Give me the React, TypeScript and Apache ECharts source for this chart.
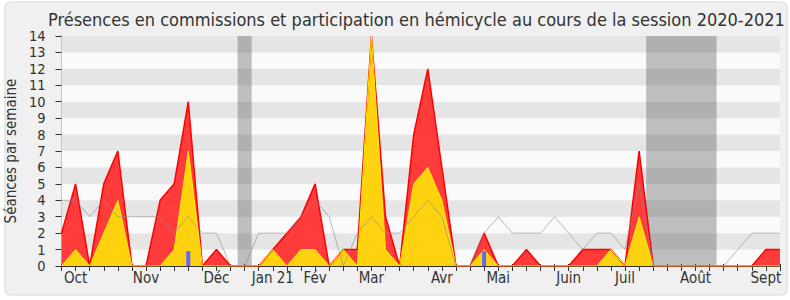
import React, { useEffect, useRef } from 'react';
import * as echarts from 'echarts';

const titleText = 'Présences en commissions et participation en hémicycle au cours de la session 2020-2021';
const yAxisName = 'Séances par semaine';

const monthLabels = ['Oct', 'Nov', 'Déc', 'Jan 21', 'Fév', 'Mar', 'Avr', 'Mai', 'Juin', 'Juil', 'Août', 'Sept'];
const monthWeeks = [1, 6, 11, 15, 18, 22, 27, 31, 36, 40, 45, 50];

// total weekly activity (red)
const presences = [2, 5, 0, 5, 7, 0, 0, 4, 5, 10, 0, 1, 0, 0, 0, 1, 2, 3, 5, 0, 1, 1, 14, 3, 0, 8, 12, 6, 0, 0, 2, 0, 0, 1, 0, 0, 0, 1, 1, 1, 0, 7, 0, 0, 0, 0, 0, 0, 0, 0, 1, 1];
// hemicycle participation (yellow)
const hemicycle = [0, 1, 0, 2, 4, 0, 0, 0, 1, 7, 0, 0, 0, 0, 0, 1, 0, 1, 1, 0, 1, 0, 14, 1, 0, 5, 6, 4, 0, 0, 1, 0, 0, 0, 0, 0, 0, 0, 0, 1, 0, 3, 0, 0, 0, 0, 0, 0, 0, 0, 0, 0];
// oral questions (blue)
const questionWeeks = [9, 30];
const questionValues = [0.9, 0.9];
// median of deputies (grey)
const mediane = [4, 4, 3, 4, 3, 3, 3, 3, 2, 3, 2, 2, 0, 0, 2, 2, 2, 3, 4, 3, 0, 2, 3, 2, 2, 3, 4, 3, 0, 0, 2, 3, 2, 2, 2, 3, 2, 1, 2, 2, 1, 5, 0, 0, 0, 0, 0, 0, 1, 2, 2, 2];
// parliamentary holidays (week ranges)
const vacances = [[12.5, 13.5], [41.5, 46.5]];

const FONT = '"DejaVu Sans Condensed", "DejaVu Sans", sans-serif';

export default function App() {
  const ref = useRef<HTMLDivElement>(null);
  useEffect(() => {
    document.body.style.margin = '0';
    const chart = echarts.init(ref.current!, null, { renderer: 'svg' });
    const n = presences.length;
    const pairs = (arr: number[]) => arr.map((v, i) => [i, v]);
    const weekTicks = Array.from({ length: n }, (_, i) => i);
    chart.setOption({
      animation: false,
      graphic: [
        {
          type: 'rect',
          z: -10,
          silent: true,
          shape: { x: 5, y: 2, width: 782, height: 293, r: 5 },
          style: { fill: '#f0f0f0', stroke: '#e2e2e2', lineWidth: 1.5 },
        },
      ],
      title: {
        text: titleText,
        left: 43,
        top: 5,
        textStyle: { fontSize: 18, fontWeight: 'normal', color: '#333', fontFamily: FONT },
      },
      grid: { left: 61.5, right: 10, top: 36, bottom: 34, outerBoundsMode: 'none', containLabel: false },
      xAxis: [
        {
          type: 'value',
          min: 0,
          max: n - 1,
          interval: 1,
          position: 'bottom',
          axisLine: { show: true, lineStyle: { color: '#333', width: 1 } },
          axisTick: { show: true, length: 5, lineStyle: { color: '#333' }, customValues: weekTicks },
          axisLabel: {
            customValues: monthWeeks,
            formatter: (v: number) => monthLabels[monthWeeks.indexOf(v)] ?? '',
            fontSize: 15,
            color: '#333',
            fontFamily: FONT,
            margin: 4,
          },
          splitLine: { show: false },
        },
        {
          type: 'value',
          min: 0,
          max: n - 1,
          interval: 1,
          position: 'top',
          axisLine: { show: false },
          axisTick: { show: true, length: 2, lineStyle: { color: '#333' }, customValues: weekTicks },
          axisLabel: { show: false },
          splitLine: { show: false },
        },
      ],
      yAxis: [
        {
          type: 'value',
          min: 0,
          max: 14,
          interval: 1,
          name: yAxisName,
          nameLocation: 'middle',
          nameGap: 42,
          nameTextStyle: { fontSize: 15, color: '#333', fontFamily: FONT },
          axisLine: { show: true, lineStyle: { color: '#333' } },
          axisTick: { show: true, length: 6, lineStyle: { color: '#333' } },
          axisLabel: { fontSize: 14.5, color: '#333', fontFamily: FONT, margin: 16 },
          splitLine: { show: false },
          splitArea: { show: true, areaStyle: { color: ['#fafafa', '#e5e5e5'] } },
        },
        {
          type: 'value',
          min: 0,
          max: 14,
          interval: 1,
          position: 'right',
          axisLine: { show: true, lineStyle: { color: '#c8c8c8' } },
          axisTick: { show: false },
          axisLabel: { show: false },
          splitLine: { show: false },
        },
      ],
      series: [
        {
          type: 'line',
          data: pairs(presences),
          symbol: 'none',
          lineStyle: { color: '#ff0000', width: 1.5 },
          areaStyle: { color: '#ff3b3b', opacity: 1 },
          markArea: {
            silent: true,
            itemStyle: { color: 'rgba(70,70,70,0.33)' },
            data: vacances.map(([a, b]) => [{ xAxis: a }, { xAxis: b }]),
          },
        },
        {
          type: 'line',
          data: pairs(hemicycle),
          symbol: 'none',
          lineStyle: { color: '#ffee00', width: 1 },
          areaStyle: { color: '#ffd20f', opacity: 1 },
        },
        {
          type: 'bar',
          z: 10,
          data: questionWeeks.map((w, k) => [w, questionValues[k]]),
          barWidth: 4,
          barMinHeight: 1,
          itemStyle: { color: '#6464ff' },
        },
        {
          type: 'line',
          z: 11,
          data: pairs(mediane),
          symbol: 'none',
          lineStyle: { color: 'rgba(140,140,140,0.6)', width: 1 },
        },
      ],
    });
    return () => chart.dispose();
  }, []);
  return <div ref={ref} style={{ width: 790, height: 300 }} />;
}
